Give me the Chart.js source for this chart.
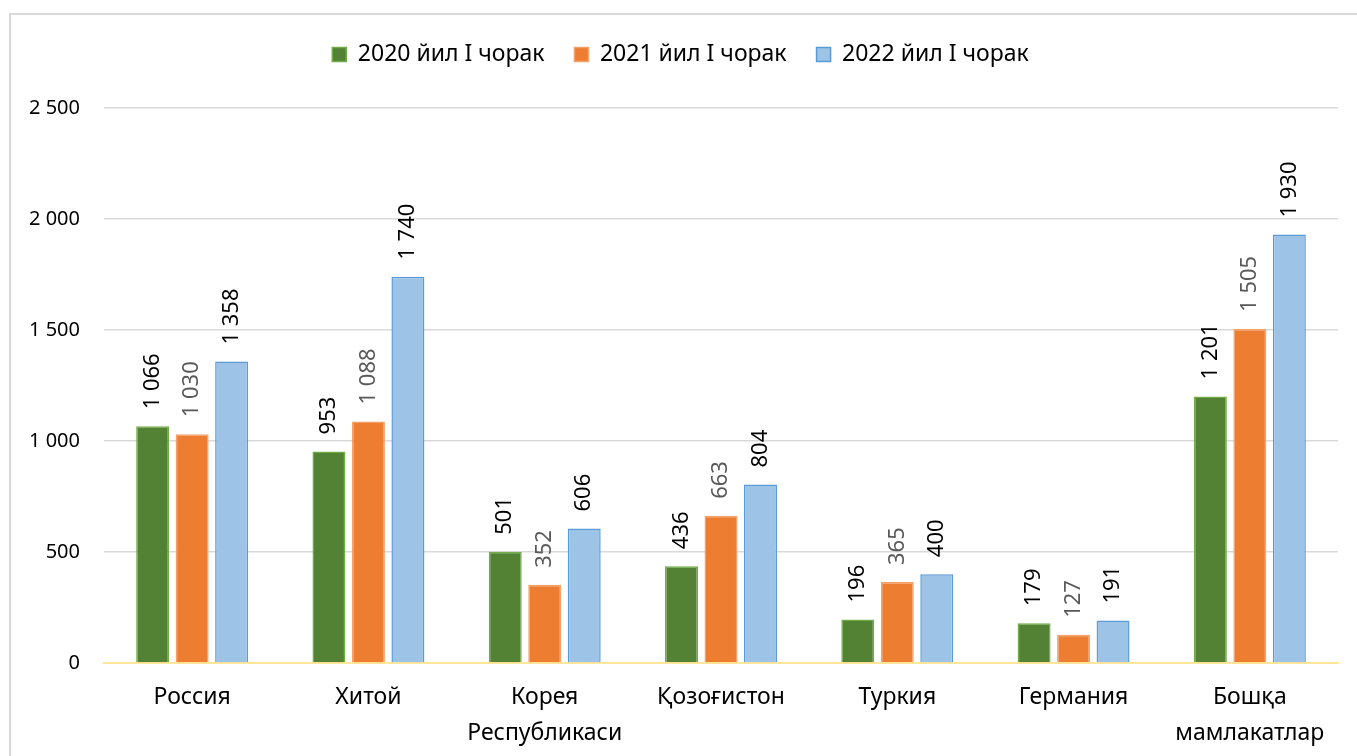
<!DOCTYPE html>
<html>
<head>
<meta charset="utf-8">
<script src="https://cdn.jsdelivr.net/npm/chart.js@4/dist/chart.umd.min.js"></script>
<style>
  html, body { margin: 0; padding: 0; background: #fff; overflow: hidden; }
  #wrap { width: 1357px; height: 756px; position: relative; }
</style>
</head>
<body>
<div id="wrap"><canvas id="c"></canvas></div>
<script>
const categories = ['Россия', 'Хитой', ['Корея', 'Республикаси'], 'Қозоғистон', 'Туркия', 'Германия', ['Бошқа', 'мамлакатлар']];
const seriesNames = ['2020 йил I чорак', '2021 йил I чорак', '2022 йил I чорак'];
const values2020 = [1066, 953, 501, 436, 196, 179, 1201];
const values2021 = [1030, 1088, 352, 663, 365, 127, 1505];
const values2022 = [1358, 1740, 606, 804, 400, 191, 1930];
const yTicks = [0, 500, 1000, 1500, 2000, 2500];

const FONT = "'Noto Sans', 'DejaVu Sans', sans-serif";
const fillColors = ['#548235', '#ED7D31', '#9DC3E6'];
const edgeColors = ['#70AD47', '#F4A26A', '#5B9BD5'];
const labelColors = ['#000000', '#595959', '#000000'];

function fmt(v) {
  return String(v).replace(/\B(?=(\d{3})+(?!\d))/g, ' ');
}

const frame = {
  id: 'frame',
  beforeDraw(chart) {
    const ctx = chart.ctx;
    ctx.save();
    ctx.fillStyle = '#fff';
    ctx.fillRect(0, 0, chart.width, chart.height);
    ctx.strokeStyle = '#D9D9D9';
    ctx.lineWidth = 2;
    ctx.beginPath();
    ctx.moveTo(10, chart.height + 5);
    ctx.lineTo(10, 14);
    ctx.lineTo(chart.width + 5, 14);
    ctx.stroke();
    ctx.restore();
  }
};

const legendSpacer = {
  id: 'legendSpacer',
  beforeLayout(chart) {
    const lg = chart.legend;
    if (lg && !lg._spacerPatched) {
      const orig = lg.fit.bind(lg);
      lg.fit = function () { orig(); this.height += 32; };
      lg._spacerPatched = true;
    }
  }
};

const barLabels = {
  id: 'barLabels',
  afterDatasetsDraw(chart) {
    const ctx = chart.ctx;
    ctx.save();
    ctx.font = '22px ' + FONT;
    ctx.textAlign = 'left';
    ctx.textBaseline = 'middle';
    chart.data.datasets.forEach((ds, di) => {
      const meta = chart.getDatasetMeta(di);
      ctx.fillStyle = labelColors[di];
      meta.data.forEach((el, i) => {
        ctx.save();
        ctx.translate(el.x, el.y - 17);
        ctx.rotate(-Math.PI / 2);
        ctx.fillText(fmt(ds.data[i]), 0, 0);
        ctx.restore();
      });
    });
    ctx.restore();
  }
};

const seriesValues = [values2020, values2021, values2022];

new Chart(document.getElementById('c'), {
  type: 'bar',
  data: {
    labels: categories,
    datasets: seriesValues.map((vals, i) => ({
      label: seriesNames[i],
      data: vals,
      backgroundColor: fillColors[i],
      borderColor: edgeColors[i],
      borderWidth: 1.5,
      categoryPercentage: 0.672,
      barPercentage: 0.835
    }))
  },
  options: {
    responsive: true,
    maintainAspectRatio: false,
    animation: false,
    devicePixelRatio: 1,
    layout: { padding: { top: 13, right: 19, bottom: 0, left: 23 } },
    plugins: {
      tooltip: { enabled: false },
      legend: {
        position: 'top',
        labels: {
          boxWidth: 14,
          boxHeight: 14,
          padding: 30,
          color: '#000',
          font: { family: FONT, size: 23 }
        }
      }
    },
    scales: {
      x: {
        grid: { display: false, drawTicks: false },
        border: { display: true, color: '#FFE699', width: 2 },
        ticks: {
          color: '#000',
          padding: 17,
          maxRotation: 0,
          autoSkip: false,
          font: { family: FONT, size: 23, lineHeight: 1.55 }
        },
        afterFit(s) { s.height = 93; }
      },
      y: {
        min: 0,
        max: 2500,
        grid: {
          drawTicks: false,
          color: ctx => (ctx.tick && ctx.tick.value === 0) ? 'rgba(0,0,0,0)' : '#D9D9D9',
          lineWidth: 1.5
        },
        border: { display: false },
        afterBuildTicks(s) { s.ticks = yTicks.map(v => ({ value: v })); },
        ticks: {
          color: '#000',
          padding: 24,
          font: { family: FONT, size: 20 },
          callback: v => fmt(v)
        },
        afterFit(s) { s.width = 81; }
      }
    }
  },
  plugins: [frame, legendSpacer, barLabels]
});
</script>
</body>
</html>
